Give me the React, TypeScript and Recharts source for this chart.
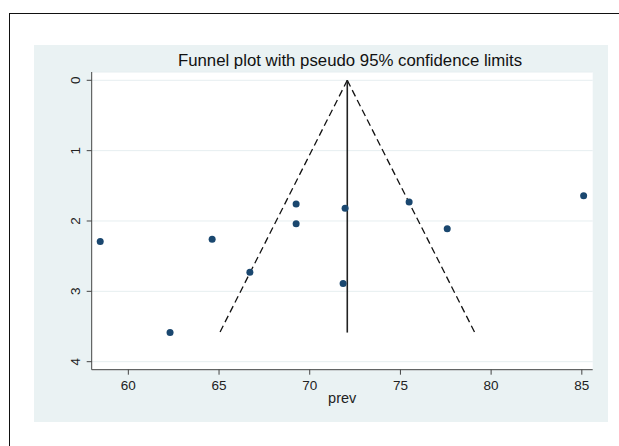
import React from 'react';
import { ScatterChart, Scatter, XAxis, YAxis, CartesianGrid, ReferenceLine } from 'recharts';

// Study prevalence estimates (x) and their standard errors (y)
const studyPrev = [58.45, 62.3, 64.62, 66.7, 69.25, 69.25, 71.84, 71.95, 75.48, 77.58, 85.1];
const studySE = [2.29, 3.586, 2.26, 2.73, 1.76, 2.04, 2.89, 1.82, 1.73, 2.11, 1.64];

const xTicks = [60, 65, 70, 75, 80, 85];
const yTicks = [0, 1, 2, 3, 4];

const pooledPrev = 72.07;
const maxSE = 3.586;
const zCrit = 1.96;

const titleText = 'Funnel plot with pseudo 95% confidence limits';
const xLabelText = 'prev';

const points = studyPrev.map((p, i) => ({ prev: p, se: studySE[i] }));

const FONT = '"Liberation Sans", Arial, Helvetica, sans-serif';
const BG = '#eaf2f3';
const MARK = '#1a476f';
const AXIS = '#444';

const XTick = (props: any) => {
  const { x, y, payload } = props;
  return (
    <text x={x} y={y + 13.3} textAnchor="middle" fontSize={13.5} fill="#222" fontFamily={FONT}>
      {payload.value}
    </text>
  );
};

const YTick = (props: any) => {
  const { x, y, payload } = props;
  const tx = x - 4.5;
  return (
    <text
      x={tx}
      y={y}
      transform={`rotate(-90 ${tx} ${y})`}
      textAnchor="middle"
      fontSize={13.5}
      fill="#222"
      fontFamily={FONT}
    >
      {payload.value}
    </text>
  );
};

const XLabel = (props: any) => {
  const vb = props.viewBox;
  return (
    <text x={vb.x + vb.width / 2} y={vb.y + 33.5} textAnchor="middle" fontSize={14.5} fill="#222" fontFamily={FONT}>
      {xLabelText}
    </text>
  );
};

const Dot = (props: any) => <circle cx={props.cx} cy={props.cy} r={3.5} fill={MARK} />;

export default function App() {
  const lowerX = pooledPrev - zCrit * maxSE;
  const upperX = pooledPrev + zCrit * maxSE;
  return (
    <div style={{ position: 'absolute', left: 0, top: 0, width: 619, height: 446, background: '#fff', overflow: 'hidden' }}>
      <div
        style={{
          position: 'absolute',
          left: 9,
          top: 13,
          width: 640,
          height: 460,
          borderLeft: '1px solid #111',
          borderTop: '1px solid #111',
        }}
      />
      <div style={{ position: 'absolute', left: 34, top: 45, width: 574, height: 377, background: BG }} />
      <div
        style={{
          position: 'absolute',
          left: 150,
          top: 53,
          width: 400,
          textAlign: 'center',
          fontFamily: FONT,
          fontSize: 16.8,
          lineHeight: '16px',
          color: '#111',
          whiteSpace: 'nowrap',
        }}
      >
        {titleText}
      </div>
      <div style={{ position: 'absolute', left: 0, top: 0 }}>
        <ScatterChart width={619} height={446} margin={{ top: 72, right: 26.3, left: 51.7, bottom: 46.3 }}>
          <CartesianGrid vertical={false} stroke="#e6eef0" fill="#ffffff" fillOpacity={1} />
          <XAxis
            type="number"
            dataKey="prev"
            domain={[57.98, 85.6]}
            ticks={xTicks}
            allowDataOverflow
            height={30}
            stroke={AXIS}
            tickSize={5}
            tick={<XTick />}
            label={<XLabel />}
          />
          <YAxis
            type="number"
            dataKey="se"
            domain={[-0.118, 4.114]}
            ticks={yTicks}
            reversed
            allowDataOverflow
            width={40}
            stroke={AXIS}
            tickSize={5}
            tick={<YTick />}
          />
          <ReferenceLine
            segment={[{ x: pooledPrev, y: 0 }, { x: lowerX, y: maxSE }]}
            stroke="#111"
            strokeWidth={1.3}
            strokeDasharray="7 4"
          />
          <ReferenceLine
            segment={[{ x: pooledPrev, y: 0 }, { x: upperX, y: maxSE }]}
            stroke="#111"
            strokeWidth={1.3}
            strokeDasharray="7 4"
          />
          <ReferenceLine
            segment={[{ x: pooledPrev, y: 0 }, { x: pooledPrev, y: maxSE }]}
            stroke="#222"
            strokeWidth={1.6}
          />
          <Scatter data={points} shape={<Dot />} isAnimationActive={false} />
        </ScatterChart>
      </div>
    </div>
  );
}
